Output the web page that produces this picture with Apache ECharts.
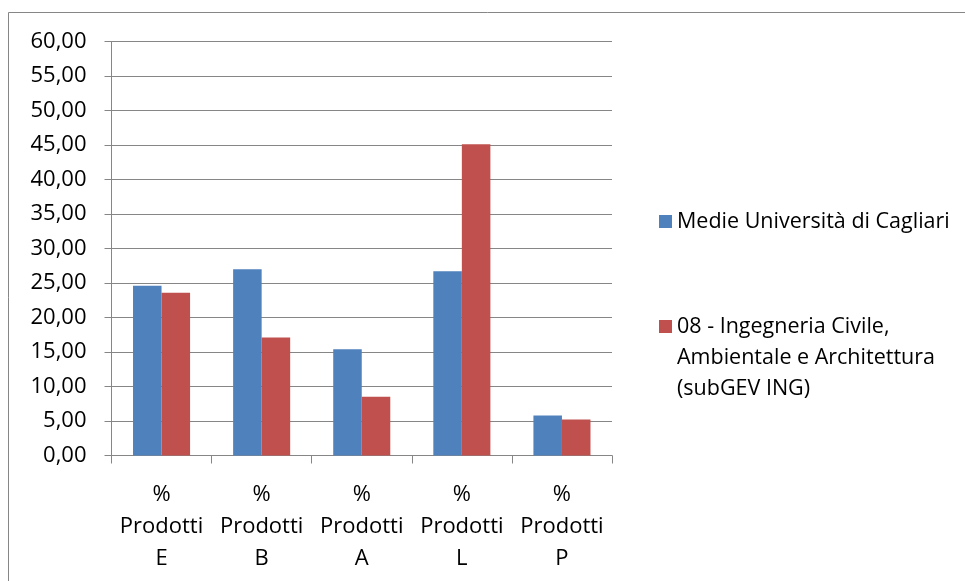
<!DOCTYPE html>
<html>
<head>
<meta charset="utf-8">
<script src="https://cdn.jsdelivr.net/npm/echarts@6/dist/echarts.min.js"></script>
<style>
html,body{margin:0;padding:0;background:#fff;}
#chart{width:965px;height:581px;}
</style>
</head>
<body>
<div id="chart"></div>
<script>
const categories = ['%\nProdotti\nE', '%\nProdotti\nB', '%\nProdotti\nA', '%\nProdotti\nL', '%\nProdotti\nP'];
const seriesNames = ['Medie Università di Cagliari', '08 - Ingegneria Civile,\nAmbientale e Architettura\n(subGEV ING)'];
const mediaCagliari = [24.6, 27.0, 15.4, 26.7, 5.8];
const ingegneriaCivile = [23.6, 17.1, 8.5, 45.1, 5.2];
const yTicks = { min: 0, max: 60, interval: 5 };

const FONT = '"Open Sans", sans-serif';
const GRAY = '#868686';
const chart = echarts.init(document.getElementById('chart'), null, { renderer: 'canvas' });
chart.setOption({
  animation: false,
  backgroundColor: '#ffffff',
  textStyle: { fontFamily: FONT },
  graphic: [{
    type: 'rect', silent: true,
    shape: { x: 8.5, y: 12.5, width: 2000, height: 2000 },
    style: { fill: 'none', stroke: GRAY, lineWidth: 1 }
  }],
  grid: { left: 111.5, right: 353, top: 41.5, bottom: 125.5, containLabel: false },
  legend: [{
    data: [seriesNames[0]],
    orient: 'vertical', left: 654, top: 201,
    icon: 'rect', itemWidth: 13, itemHeight: 13, itemGap: 8,
    textStyle: { fontFamily: FONT, fontSize: 21.5, color: '#000', lineHeight: 31 },
    selectedMode: false
  }, {
    data: [seriesNames[1]],
    orient: 'vertical', left: 654, top: 306,
    icon: 'path://M0,0h0.01v0.01h-0.01z M0,9h13v13h-13z M0,92.99h0.01v0.01h-0.01z',
    itemWidth: 13, itemHeight: 93, itemGap: 8,
    textStyle: { fontFamily: FONT, fontSize: 21.5, color: '#000', lineHeight: 31 },
    selectedMode: false
  }],
  xAxis: {
    type: 'category', data: categories,
    axisLine: { lineStyle: { color: GRAY, width: 1 } },
    axisTick: { show: true, length: 8, lineStyle: { color: GRAY } },
    axisLabel: { color: '#000', fontFamily: FONT, fontSize: 22, lineHeight: 32, margin: 23, interval: 0 },
    splitLine: { show: false }
  },
  yAxis: {
    type: 'value', min: yTicks.min, max: yTicks.max, interval: yTicks.interval,
    axisLine: { show: true, lineStyle: { color: GRAY, width: 1 } },
    axisTick: { show: true, length: 7, lineStyle: { color: GRAY } },
    axisLabel: { color: '#000', fontFamily: FONT, fontSize: 22, margin: 25,
      formatter: v => v.toFixed(2).replace('.', ',') },
    splitLine: { show: true, lineStyle: { color: GRAY, width: 1 } }
  },
  series: [{
    name: seriesNames[0], type: 'bar', data: mediaCagliari,
    itemStyle: { color: '#4F81BD' }, barGap: '0%', barCategoryGap: '43%'
  }, {
    name: seriesNames[1], type: 'bar', data: ingegneriaCivile,
    itemStyle: { color: '#C0504D' }, barGap: '0%', barCategoryGap: '43%'
  }]
});
</script>
</body>
</html>
